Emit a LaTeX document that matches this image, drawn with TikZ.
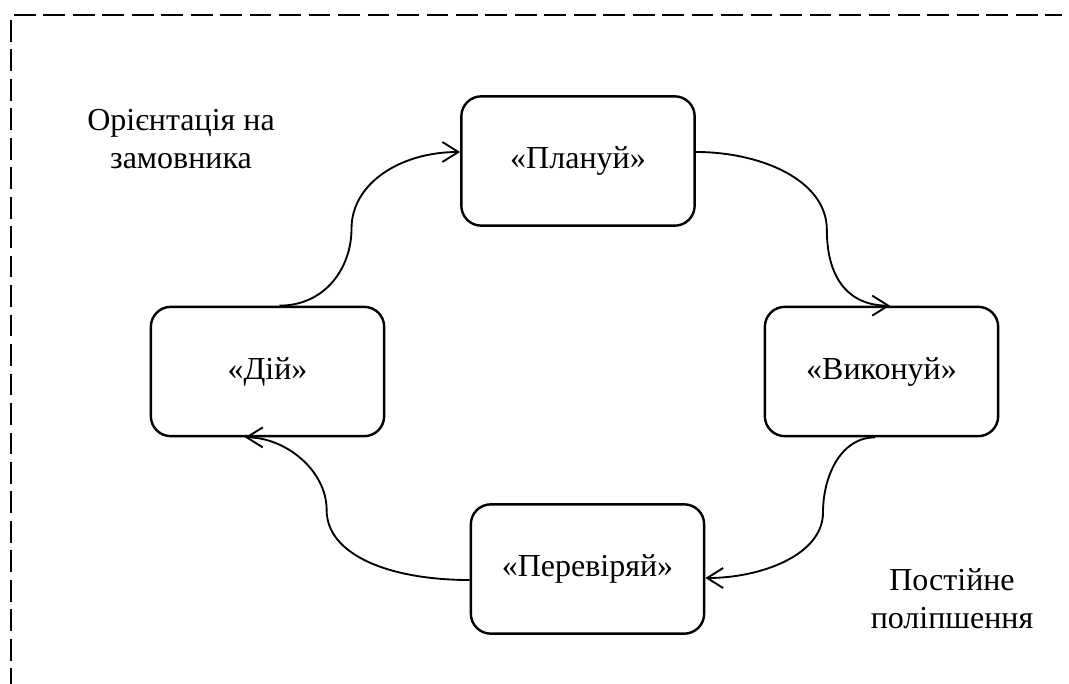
\documentclass[tikz,border=0pt]{standalone}
\usepackage{fontspec}
\setmainfont{Liberation Serif}
\usetikzlibrary{arrows.meta}
\begin{document}
\begin{tikzpicture}[x=0.75pt,y=-0.75pt,
  stepbox/.style={draw, line width=1.8pt, rounded corners=15pt, minimum width=175pt, minimum height=97pt, inner sep=0pt, font=\fontsize{24}{28}\selectfont},
  lbl/.style={align=center, inner sep=0pt, font=\fontsize{24}{28.5}\selectfont},
  conn/.style={line width=1.4pt, -{Straight Barb[length=12pt, width=15pt, line width=1.4pt]}},
  frame/.style={line width=2.1pt, dash pattern=on 16.3pt off 5.8pt}]
\useasboundingbox (0,0) rectangle (1069,684);
% frame
\draw[frame] (14,15) -- (1062,15);
\draw[frame] (11,20) -- (11,684);
% boxes
\node[stepbox] (plan) at (578,161) {«Плануй»};
\node[stepbox] (dii)  at (267.5,371.5) {«Дій»};
\node[stepbox] (vyk)  at (881.5,371.5) {«Виконуй»};
\node[stepbox] (perev) at (587.5,569) {«Перевіряй»};
% labels
\node[lbl] (orient) at (181,139) {Орієнтація на\\замовника};
\node[lbl] (post) at (952,599) {Постійне\\поліпшення};
% connectors
\draw[conn] ([shift={(12,0)}]dii.north) .. controls +(45,0) and +(0,40) .. ++(72,-77)
   .. controls +(0,-45) and +(-60,0) .. ([shift={(0,-9)}]plan.west);
\draw[conn] ([shift={(0,-9)}]plan.east) .. controls +(65,0) and +(0,-50) .. ++(131,78)
   .. controls +(0,50) and +(-40,0) .. ([shift={(8.5,0)}]vyk.north);
\draw[conn] ([shift={(-6.5,0)}]vyk.south) .. controls +(-35,0) and +(0,-35) .. ++(-52,75)
   .. controls +(0,43) and +(55,0) .. ([shift={(0,9)}]perev.east);
\draw[conn] ([shift={(0,11)}]perev.west) .. controls +(-80,0) and +(0,45) .. ++(-143,-70)
   .. controls +(0,-40) and +(40,0) .. ([shift={(-22.5,0)}]dii.south);
\end{tikzpicture}
\end{document}
